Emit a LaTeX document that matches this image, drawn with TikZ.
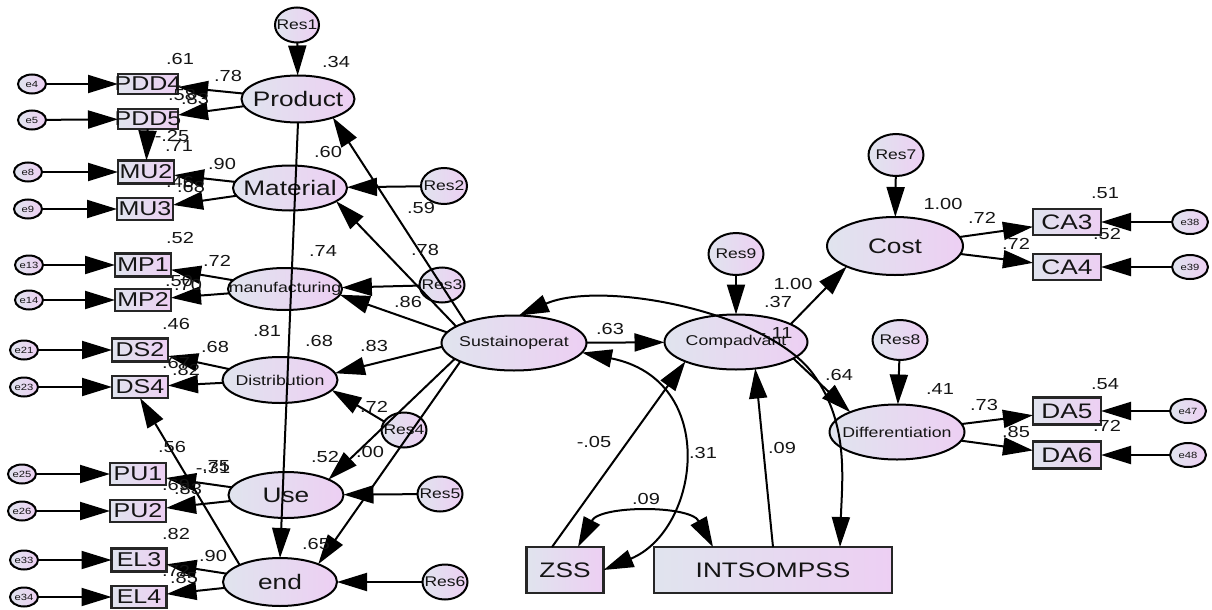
\documentclass[tikz,border=0pt]{standalone}
\usepackage{fontspec}
\setmainfont{Liberation Sans}[FakeStretch=1.25]
\usetikzlibrary{shapes.geometric,arrows.meta}
\definecolor{cA}{HTML}{E0E4EE}
\definecolor{cB}{HTML}{EDCFF3}
\definecolor{tx}{HTML}{151515}
\newcommand\fbig{\fontsize{21}{24}\selectfont}
\newcommand\fmid{\fontsize{14.2}{16}\selectfont}
\newcommand\fobs{\fontsize{20}{22}\selectfont}
\newcommand\fobsR{\fontsize{21}{23}\selectfont}
\newcommand\fres{\fontsize{14}{16}\selectfont}
\newcommand\fe{\fontsize{9}{10}\selectfont}
\newcommand\fnum{\fontsize{16}{18}\selectfont}
\newcommand\mk[8]{\node[#1, minimum width=#5pt, minimum height=#6pt, label={[#7,text=tx,inner sep=0pt]center:#8}] (#2) at (#3,#4) {};}
\begin{document}
\begin{tikzpicture}[x=1pt,y=-1pt,
  shd/.style={left color=cA, right color=cB, draw=black, line width=2pt, inner sep=0pt, outer sep=0pt},
  lat/.style={shd, ellipse},
  obs/.style={shd, rectangle, line width=2.4pt, draw=black!85},
  tip/.tip={Triangle[length=30pt,width=18pt]},
  con/.style={line width=2pt, -tip},
  bic/.style={line width=2pt, tip-tip},
  num/.style={font=\fnum, text=tx, inner sep=0pt},
]
\useasboundingbox (0,0) rectangle (1212,610);
% left error terms
\mk{lat}{e4}{32}{84}{28}{19}{font=\fe}{e4}
\mk{lat}{e5}{32}{120}{28}{19}{font=\fe}{e5}
\mk{lat}{e8}{28}{172}{28}{19}{font=\fe}{e8}
\mk{lat}{e9}{28}{209}{28}{19}{font=\fe}{e9}
\mk{lat}{e13}{29}{265}{28}{19}{font=\fe}{e13}
\mk{lat}{e14}{29}{300}{28}{19}{font=\fe}{e14}
\mk{lat}{e21}{24}{350}{28}{19}{font=\fe}{e21}
\mk{lat}{e23}{24}{387}{28}{19}{font=\fe}{e23}
\mk{lat}{e25}{22}{474}{28}{19}{font=\fe}{e25}
\mk{lat}{e26}{22}{511}{28}{19}{font=\fe}{e26}
\mk{lat}{e33}{24}{560}{28}{19}{font=\fe}{e33}
\mk{lat}{e34}{24}{597}{28}{19}{font=\fe}{e34}
% left boxes
\mk{obs}{PDD4}{148}{84}{60}{20}{font=\fobs}{PDD4}
\mk{obs}{PDD5}{148}{119}{60}{20}{font=\fobs}{PDD5}
\mk{obs}{MU2}{146}{172}{56}{23}{font=\fobs}{MU2}
\mk{obs}{MU3}{145}{209}{56}{22}{font=\fobs}{MU3}
\mk{obs}{MP1}{143}{265}{56}{23}{font=\fobs}{MP1}
\mk{obs}{MP2}{143}{300}{56}{22}{font=\fobs}{MP2}
\mk{obs}{DS2}{140}{350}{56}{23}{font=\fobs}{DS2}
\mk{obs}{DS4}{140}{387}{56}{22}{font=\fobs}{DS4}
\mk{obs}{PU1}{138}{474}{56}{22}{font=\fobs}{PU1}
\mk{obs}{PU2}{138}{511}{56}{22}{font=\fobs}{PU2}
\mk{obs}{EL3}{139}{560}{55}{23}{font=\fobs}{EL3}
\mk{obs}{EL4}{139}{597}{55}{22}{font=\fobs}{EL4}
% left latents
\mk{lat}{Product}{298}{99}{113}{47}{font=\fbig}{Product}
\mk{lat}{Material}{290}{188}{114}{45}{font=\fbig}{Material}
\mk{lat}{manuf}{285}{289}{114}{42}{font=\fmid}{manufacturing}
\mk{lat}{Distribution}{280}{380}{115}{46}{font=\fmid}{Distribution}
\mk{lat}{Use}{286}{495}{115}{46}{font=\fbig}{Use}
\mk{lat}{endn}{280}{582}{114}{48}{font=\fbig}{end}
% residuals
\mk{lat}{Res1}{297}{25}{44}{35}{font=\fres}{Res1}
\mk{lat}{Res2}{444}{186}{46}{36}{font=\fres}{Res2}
\mk{lat}{Res3}{442}{285}{45}{35}{font=\fres}{Res3}
\mk{lat}{Res4}{404}{430}{45}{35}{font=\fres}{Res4}
\mk{lat}{Res5}{440}{494}{45}{35}{font=\fres}{Res5}
\mk{lat}{Res6}{445}{582}{45}{35}{font=\fres}{Res6}
% centre and right
\mk{lat}{Sust}{514}{343}{145}{55}{font=\fmid}{Sustainoperat}
\mk{lat}{Comp}{736}{342}{143}{55}{font=\fmid}{Compadvant}
\mk{lat}{Res9}{736}{254}{55}{42}{font=\fres}{Res9}
\mk{lat}{Cost}{895}{246}{136}{58}{font=\fbig}{Cost}
\mk{lat}{Res7}{896}{155}{55}{42}{font=\fres}{Res7}
\mk{lat}{Diff}{897}{432}{135}{55}{font=\fmid}{Differentiation}
\mk{lat}{Res8}{900}{340}{55}{40}{font=\fres}{Res8}
\mk{obs}{CA3}{1067}{222}{68}{26}{font=\fobsR}{CA3}
\mk{obs}{CA4}{1067}{267}{68}{26}{font=\fobsR}{CA4}
\mk{obs}{DA5}{1067}{411}{68}{27}{font=\fobsR}{DA5}
\mk{obs}{DA6}{1067}{455}{68}{27}{font=\fobsR}{DA6}
\mk{lat}{e38}{1190}{222}{36}{24}{font=\fe}{e38}
\mk{lat}{e39}{1190}{267}{36}{24}{font=\fe}{e39}
\mk{lat}{e47}{1188}{411}{36}{24}{font=\fe}{e47}
\mk{lat}{e48}{1188}{455}{36}{24}{font=\fe}{e48}
\mk{obs}{ZSS}{565}{570}{77}{46}{font=\fobsR}{ZSS}
\mk{obs}{INTS}{773}{570}{238}{46}{font=\fobsR}{INTSOMPSS}
% connectors: error terms
\foreach \a/\b in {e4/PDD4,e5/PDD5,e8/MU2,e9/MU3,e13/MP1,e14/MP2,e21/DS2,e23/DS4,e25/PU1,e26/PU2,e33/EL3,e34/EL4,e38/CA3,e39/CA4,e47/DA5,e48/DA6}
  \draw[con] (\a) -- (\b);
% loadings
\foreach \a/\b in {Product/PDD4,Product/PDD5,PDD5/MU2,Material/MU2,Material/MU3,manuf/MP1,manuf/MP2,Distribution/DS2,Distribution/DS4,Use/PU1,Use/PU2,endn/EL3,endn/EL4,Cost/CA3,Cost/CA4,Diff/DA5,Diff/DA6,Res1/Product,Res2/Material,Res3/manuf,Res5/Use,Res6/endn,Sust/Comp,Res9/Comp,Res7/Cost,Res8/Diff}
  \draw[con] (\a) -- (\b);
\draw[con] (endn.north west) -- (DS4.south);
\draw[con] (Product.south) -- (endn.north);
\draw[con] (Res4.157) -- (Distribution.-11);
\draw[con] (Sust.157) -- (Product.-28);
\draw[con] (Sust.164) -- (Material.-16);
\draw[con] (Sust.171) -- (manuf.-6);
\draw[con] (Sust.-177) -- (Distribution.7);
\draw[con] (Sust.-165) -- (Use.20);
\draw[con] (Sust.-161) -- (endn.25);
\draw[con] (Comp.18) -- (Cost.-157);
\draw[con] (Comp.-16) -- (Diff.157);
\draw[con] ([xshift=-13pt]ZSS.north) -- (Comp.-159);
\draw[con] (INTS.north) -- (Comp.-54);
\draw[bic] ([xshift=13pt]ZSS.north) .. controls (600,505) and (690,505) .. ([xshift=-60pt]INTS.north);
\draw[bic] (Sust.-8) .. controls (720,380) and (700,530) .. (ZSS.east);
\draw[bic] (Sust.80) .. controls (600,280) and (760,310) .. (810,370) .. controls (850,420) and (842,480) .. ([xshift=67pt]INTS.north);
% coefficient labels
\foreach \t/\x/\y [count=\i] in {
 .61/180/59, .78/228/76, .34/336/62, .58/182/95, .83/195/99,
 -.25/172/136, .71/179/146, .90/222/164, .46/180/182, .68/191/187,
 .52/180/238, .72/217/261, .50/179/281, .70/188/285, .74/323/251,
 .60/328/152, .59/421/208, .78/425/250, .86/408/302, .46/176/324,
 .68/215/347, .67/176/363, .82/186/370, .81/267/331, .68/319/341,
 .83/374/346, .72/374/407, .56/172/447, .75/216/466, -.31/213/468,
 .69/176/485, .83/188/489, .52/325/457, .00/370/452, .82/176/534,
 .90/213/556, .72/176/571, .85/184/578, .65/316/544,
 .63/610/329, 1.00/793/284, .37/778/302, -.11/776/333, .64/839/375,
 .41/940/389, 1.00/943/204, .72/982/218, .51/1105/193, .72/1016/244,
 .52/1107/234, .73/984/405, .54/1105/384, .85/1016/432, .72/1107/426,
 -.05/594/442, .31/703/453, .09/646/499, .09/782/448}
  \node[num] (n\i) at (\x,\y) {\t};
\end{tikzpicture}
\end{document}
